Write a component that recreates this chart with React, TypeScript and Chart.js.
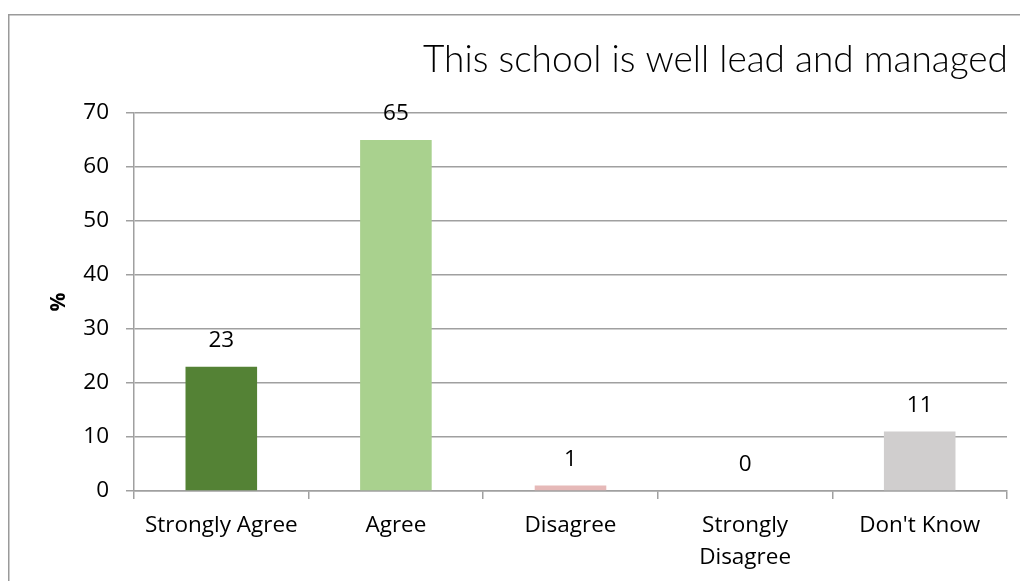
import React, { useEffect, useRef } from "react";
import { Chart, registerables } from "chart.js";

Chart.register(...registerables);

const TITLE = "This school is well lead and managed";
const categories: (string | string[])[] = ["Strongly Agree", "Agree", "Disagree", ["Strongly", "Disagree"], "Don't Know"];
const values = [23, 65, 1, 0, 11];
const barColors = ["#548235", "#A9D18E", "#E6B9B8", "#C0504D", "#D0CECE"];
const yTicks = [0, 10, 20, 30, 40, 50, 60, 70];
const Y_TITLE = "%";

const FONT = "'Open Sans', 'Liberation Sans', sans-serif";
const FSIZE = 22.5;

const framePlugin = {
  id: "frame",
  beforeDraw(chart: any) {
    const { ctx, width, height } = chart;
    ctx.save();
    ctx.strokeStyle = "#9a9a9a";
    ctx.lineWidth = 1.5;
    ctx.strokeRect(0.75, 6.75, width + 20, height + 20);
    ctx.restore();
  },
};

const titlePlugin = {
  id: "customTitle",
  afterDraw(chart: any) {
    const { ctx, chartArea } = chart;
    ctx.save();
    ctx.font = `300 37px 'Lato', 'Open Sans', sans-serif`;
    ctx.fillStyle = "#000";
    ctx.textAlign = "right";
    ctx.textBaseline = "alphabetic";
    ctx.fillText(TITLE, chartArea.right + 1, chartArea.top - 41);
    ctx.restore();
  },
};

const labelPlugin = {
  id: "barLabels",
  afterDatasetsDraw(chart: any) {
    const { ctx } = chart;
    const meta = chart.getDatasetMeta(0);
    ctx.save();
    ctx.font = `${FSIZE}px ${FONT}`;
    ctx.fillStyle = "#000";
    ctx.textAlign = "center";
    ctx.textBaseline = "middle";
    meta.data.forEach((bar: any, i: number) => {
      ctx.fillText(String(values[i]), bar.x, bar.y - 26);
    });
    ctx.restore();
  },
};

export default function App() {
  const ref = useRef<HTMLCanvasElement | null>(null);
  useEffect(() => {
    if (!ref.current) return;
    const chart = new Chart(ref.current, {
      type: "bar",
      data: {
        labels: categories,
        datasets: [
          {
            data: values,
            backgroundColor: barColors,
            borderWidth: 0,
            barPercentage: 0.41,
            categoryPercentage: 1,
          },
        ],
      },
      options: {
        animation: false,
        responsive: true,
        maintainAspectRatio: false,
        layout: { padding: { top: 105, right: 13, left: 0, bottom: 0 } },
        plugins: {
          legend: { display: false },
          title: { display: false },
          tooltip: { enabled: false },
        },
        scales: {
          x: {
            grid: {
              offset: true,
              drawOnChartArea: false,
              drawTicks: true,
              tickLength: 8,
              color: "#a0a0a0",
              lineWidth: 1.5,
            },
            border: { color: "#a0a0a0", width: 1.5 },
            ticks: {
              color: "#000",
              font: { family: FONT, size: FSIZE, lineHeight: 1.45 },
              padding: 10,
              maxRotation: 0,
              autoSkip: false,
            },
            afterFit(scale: any) {
              scale.height = 90;
            },
          },
          y: {
            min: 0,
            max: 70,
            afterBuildTicks(scale: any) {
              scale.ticks = yTicks.map((v) => ({ value: v }));
            },
            grid: {
              color: "#a0a0a0",
              lineWidth: 1.5,
              drawTicks: true,
              tickLength: 8,
            },
            border: { color: "#a0a0a0", width: 1.5 },
            ticks: {
              color: "#000",
              font: { family: FONT, size: FSIZE },
              padding: 17,
            },
            title: {
              display: true,
              text: Y_TITLE,
              color: "#000",
              font: { family: FONT, size: 21, weight: "bold" },
              padding: { top: 38, bottom: 0 },
            },
            afterFit(scale: any) {
              scale.width = 126;
            },
          },
        },
      },
      plugins: [framePlugin, titlePlugin, labelPlugin],
    });
    return () => chart.destroy();
  }, []);
  return (
    <div style={{ position: "absolute", left: 8, top: 8, width: 1012, height: 573 }}>
      <canvas ref={ref} />
    </div>
  );
}
